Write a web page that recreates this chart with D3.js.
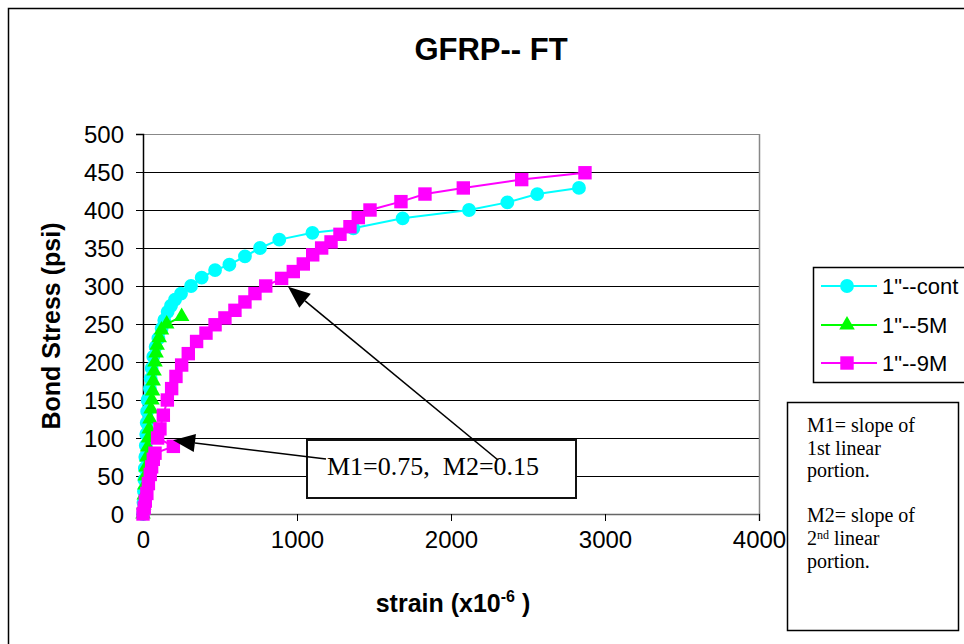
<!DOCTYPE html>
<html><head><meta charset="utf-8">
<script src="https://cdn.jsdelivr.net/npm/d3@7"></script>
<style>
body{margin:0;background:#fff;}
svg{display:block;}
</style></head>
<body>
<svg id="chart" width="964" height="644"></svg>
<script>
// ---- data ----
const title = "GFRP-- FT";
const seriesNames = ['1"--cont', '1"--5M', '1"--9M'];
const xTicks = [0, 1000, 2000, 3000, 4000];
const yTicks = [0, 50, 100, 150, 200, 250, 300, 350, 400, 450, 500];

const contStrain = [0,3,6,9,12,15,18,21,24,27,30,45,50,56,67,82,100,121,138,160,182,208,247,312,381,468,561,662,760,885,1100,1366,1686,2117,2366,2560,2831];
const contStress = [0,15,30,45,60,75,90,105,120,135,150,165,178,192,207,220,231,244,255,266,274,282,290,300,311,321,328,339,350,361,370,376,389,400,410,421,429];

const m5Strain = [0,5,8,12,15,20,25,30,35,40,45,52,58,62,66,72,78,85,92,105,120,154,251];
const m5Stress = [0,12,25,38,50,62,75,88,100,112,125,138,150,162,175,188,200,212,222,232,242,250,260];

const m9Strain = [0,8,15,25,35,47,56,67,78,197,95,110,132,158,186,214,251,294,348,409,468,532,597,662,727,797,900,976,1041,1102,1160,1221,1279,1344,1398,1474,1675,1831,2080,2459,2870];
const m9Stress = [0,8,17,27,40,52,62,72,80,89,100,112,130,150,165,181,196,211,227,238,249,258,268,279,290,300,310,319,329,341,350,358,368,378,390,400,411,421,429,440,449];

const annoText = "M1=0.75,  M2=0.15";
const noteLines = ["M1= slope of", "1st linear", "portion.", "", "M2= slope of", "2|nd| linear", "portion."];

// ---- layout ----
const svg = d3.select("#chart");
const X0 = 143, X1 = 759, Y0 = 514, Y1 = 134;
const x = d3.scaleLinear().domain([0, 4000]).range([X0, X1]);
const y = d3.scaleLinear().domain([0, 500]).range([Y0, Y1]);
const colors = ["#00FFFF", "#00FF00", "#FF00FF"];
const sans = "'Liberation Sans', Arial, sans-serif";
const serif = "'Liberation Serif', 'Times New Roman', serif";

// outer frame
svg.append("rect").attr("x", 8.5).attr("y", 8.5).attr("width", 980).attr("height", 660)
  .attr("fill", "none").attr("stroke", "#000").attr("stroke-width", 1.5);

// title
svg.append("text").attr("x", 491).attr("y", 60).attr("text-anchor", "middle")
  .attr("font-family", sans).attr("font-weight", "bold").attr("font-size", 31).text(title);

// gridlines
svg.append("g").selectAll("line").data(yTicks.filter(d => d > 0)).join("line")
  .attr("x1", X0).attr("x2", X1).attr("y1", d => Math.round(y(d)) + 0.5).attr("y2", d => Math.round(y(d)) + 0.5)
  .attr("stroke", d => d === 500 ? "#888" : "#000").attr("stroke-width", 1);
// right border of plot area
svg.append("line").attr("x1", X1 + 0.5).attr("x2", X1 + 0.5).attr("y1", Y1).attr("y2", Y0)
  .attr("stroke", "#888").attr("stroke-width", 1.5);

// axes
const yAxis = d3.axisLeft(y).tickValues(yTicks).tickSize(7).tickPadding(12);
const gy = svg.append("g").attr("transform", `translate(${X0},0)`).call(yAxis);
gy.select(".domain").attr("stroke", "#000").attr("stroke-width", 1.5);
gy.selectAll(".tick line").attr("stroke", "#000");
gy.selectAll(".tick text").attr("font-family", sans).attr("font-size", 24).attr("fill", "#000").attr("dy", "0.36em");

const xAxis = d3.axisBottom(x).tickValues(xTicks).tickSize(7).tickPadding(10).tickFormat(d3.format("d"));
const gx = svg.append("g").attr("transform", `translate(0,${Y0})`).call(xAxis);
gx.select(".domain").attr("stroke", "#666").attr("stroke-width", 1.5);
gx.selectAll(".tick line").attr("stroke", "#000");
gx.selectAll(".tick text").attr("font-family", sans).attr("font-size", 24).attr("fill", "#000");

// axis titles
svg.append("text").attr("transform", `translate(60,${(Y0 + Y1) / 2 + 2}) rotate(-90)`)
  .attr("text-anchor", "middle").attr("font-family", sans).attr("font-weight", "bold").attr("font-size", 25)
  .text("Bond Stress (psi)");
const xt = svg.append("text").attr("x", 453).attr("y", 612).attr("text-anchor", "middle")
  .attr("font-family", sans).attr("font-weight", "bold").attr("font-size", 25);
xt.append("tspan").text("strain (x10");
xt.append("tspan").attr("font-size", 16).attr("dy", -10).text("-6");
xt.append("tspan").attr("dy", 10).text(" )");

// series
const series = [
  {name: seriesNames[0], xs: contStrain, ys: contStress, shape: d3.symbolCircle, size: 150},
  {name: seriesNames[1], xs: m5Strain, ys: m5Stress, shape: d3.symbolTriangle, size: 105},
  {name: seriesNames[2], xs: m9Strain, ys: m9Stress, shape: d3.symbolSquare, size: 180}
];
const line = d3.line().x(d => x(d[0])).y(d => y(d[1]));
series.forEach((s, i) => {
  const pts = s.xs.map((v, k) => [v, s.ys[k]]);
  const g = svg.append("g");
  g.append("path").attr("d", line(pts)).attr("fill", "none").attr("stroke", colors[i]).attr("stroke-width", 2);
  g.selectAll("path.m").data(pts).join("path").attr("class", "m")
    .attr("transform", d => `translate(${x(d[0])},${y(d[1])})`)
    .attr("d", d3.symbol().type(s.shape).size(s.size)).attr("fill", colors[i]);
});

// annotation box
const bx0 = 307, by0 = 440, bx1 = 576, by1 = 498;
svg.append("rect").attr("x", bx0).attr("y", by0).attr("width", bx1 - bx0).attr("height", by1 - by0)
  .attr("fill", "#fff").attr("stroke", "#111").attr("stroke-width", 2);

function arrow(x1, y1, x2, y2) {
  const ang = Math.atan2(y2 - y1, x2 - x1), L = 22, W = 9;
  const bx = x2 - L * Math.cos(ang), by = y2 - L * Math.sin(ang);
  svg.append("line").attr("x1", x1).attr("y1", y1).attr("x2", bx).attr("y2", by)
    .attr("stroke", "#000").attr("stroke-width", 1.6);
  const px = -Math.sin(ang) * W, py = Math.cos(ang) * W;
  svg.append("polygon").attr("points", `${x2},${y2} ${bx + px},${by + py} ${bx - px},${by - py}`).attr("fill", "#000");
}
svg.append("text").attr("x", 327).attr("y", 475).attr("font-family", serif).attr("font-size", 26)
  .attr("fill", "#000").attr("xml:space", "preserve").style("white-space", "pre").text(annoText);
arrow(326, 459, x(195), y(97));
arrow(498, 460, x(942), y(299));

// legend
const lg = svg.append("g");
lg.append("rect").attr("x", 813.5).attr("y", 267.5).attr("width", 160).attr("height", 115)
  .attr("fill", "#fff").attr("stroke", "#000").attr("stroke-width", 1.5);
const rows = [286, 325, 363];
series.forEach((s, i) => {
  lg.append("line").attr("x1", 821).attr("x2", 877).attr("y1", rows[i]).attr("y2", rows[i])
    .attr("stroke", colors[i]).attr("stroke-width", 2);
  lg.append("path").attr("transform", `translate(847,${rows[i]})`)
    .attr("d", d3.symbol().type(s.shape).size(s.size)).attr("fill", colors[i]);
  lg.append("text").attr("x", 882).attr("y", rows[i] + 8).attr("font-family", sans).attr("font-size", 22)
    .attr("fill", "#000").text(s.name);
});

// note box
svg.append("rect").attr("x", 787.5).attr("y", 402.5).attr("width", 171).attr("height", 228)
  .attr("fill", "#fff").attr("stroke", "#000").attr("stroke-width", 1.5);
noteLines.forEach((t, k) => {
  if (!t) return;
  const tx = svg.append("text").attr("x", 807).attr("y", 432 + k * 22.6)
    .attr("font-family", serif).attr("font-size", 20).attr("fill", "#000");
  const parts = t.split("|");
  parts.forEach((p, j) => {
    const sp = tx.append("tspan").text(p);
    if (j === 1) sp.attr("font-size", 12).attr("dy", -6);
    if (j === 2) sp.attr("dy", 6);
  });
});
</script>
</body></html>
